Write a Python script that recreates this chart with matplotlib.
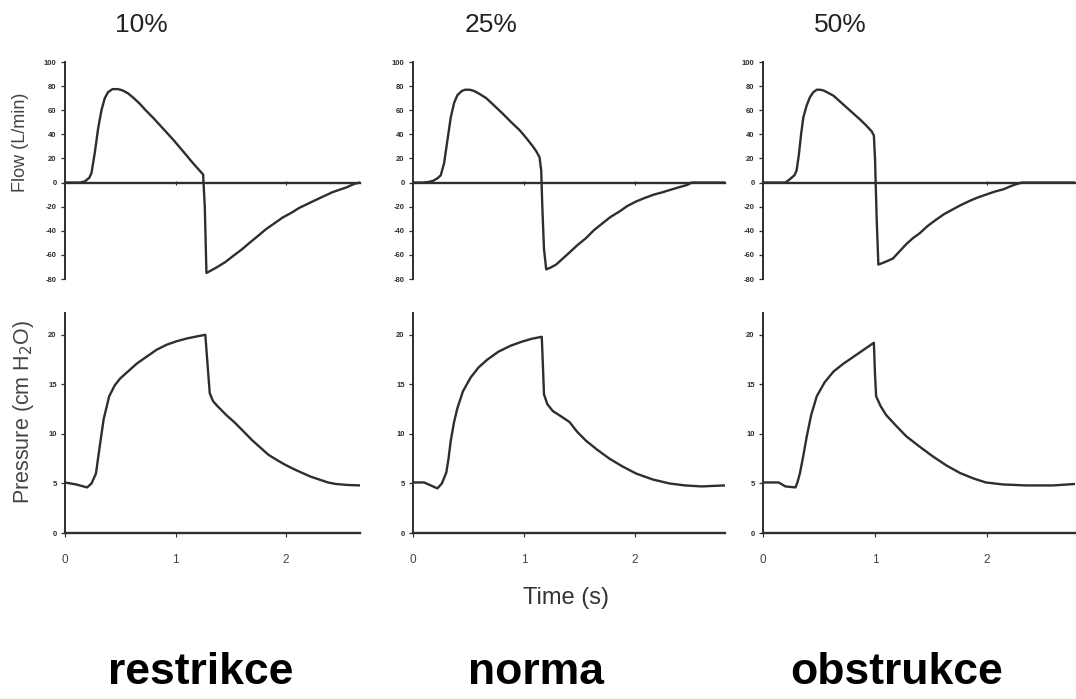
import matplotlib
matplotlib.use("Agg")
import matplotlib.pyplot as plt

# ---------------- data ----------------
titles = ["10%", "25%", "50%"]
bottom_labels = ["restrikce", "norma", "obstrukce"]

flow_t1 = [0, 0.14, 0.18, 0.22, 0.24, 0.27, 0.30, 0.33, 0.36, 0.39, 0.43, 0.48, 0.52, 0.57,
           0.61, 0.67, 0.73, 0.80, 0.86, 0.92, 0.98, 1.04, 1.10, 1.15, 1.19, 1.25, 1.265, 1.28,
           1.32, 1.37, 1.45, 1.52, 1.60, 1.67, 1.75, 1.82, 1.90, 1.97, 2.05, 2.12, 2.20, 2.27,
           2.35, 2.42, 2.49, 2.55, 2.62, 2.67]
flow_v1 = [0, 0, 1, 4, 8, 25, 45, 60, 70, 75, 77.5, 77.5, 76.5, 74,
           71, 66, 60, 53.5, 47.5, 41.5, 35.5, 29, 22.5, 17, 12.8, 6.7, -20, -75,
           -73, -70.5, -66, -61, -55.5, -50, -44, -38.6, -33.5, -29, -25, -21, -17.5, -14.4,
           -11, -8, -5.8, -3.9, -1, 0]

flow_t2 = [0, 0.09, 0.14, 0.18, 0.22, 0.25, 0.28, 0.31, 0.34, 0.37, 0.40, 0.44, 0.47, 0.51,
           0.55, 0.60, 0.66, 0.73, 0.81, 0.88, 0.96, 1.02, 1.08, 1.11, 1.14, 1.155, 1.165, 1.18,
           1.20, 1.24, 1.29, 1.35, 1.41, 1.48, 1.56, 1.63, 1.71, 1.78, 1.86, 1.93, 2.01, 2.09,
           2.17, 2.25, 2.32, 2.40, 2.47, 2.51, 2.81]
flow_v2 = [0, 0, 0.5, 1.4, 3.5, 6, 16, 35, 54, 66, 72.5, 76, 77, 77,
           76, 73.5, 70, 64, 57, 50.5, 43.5, 37, 30, 26, 21, 10, -20, -55,
           -72, -70.5, -68, -63, -58, -52, -46, -39.5, -33.6, -28.5, -24, -19.5, -15.7, -12.7,
           -10, -8, -6, -3.8, -2, 0, 0]

flow_t3 = [0, 0.20, 0.24, 0.28, 0.30, 0.32, 0.34, 0.36, 0.39, 0.42, 0.45, 0.48, 0.51, 0.54,
           0.58, 0.63, 0.69, 0.75, 0.81, 0.87, 0.92, 0.97, 0.99, 1.00, 1.015, 1.03, 1.06, 1.10,
           1.16, 1.22, 1.28, 1.34, 1.40, 1.47, 1.55, 1.62, 1.70, 1.77, 1.85, 1.92, 2.00, 2.07,
           2.15, 2.20, 2.24, 2.31, 2.79]
flow_v3 = [0, 0, 2.8, 6, 10, 23, 40, 54, 64, 71, 75, 77, 77, 76.4,
           74.5, 72, 67, 62, 57, 52, 47.5, 42.5, 39, 20, -30, -68, -67, -65.5,
           -63, -57, -51, -46, -42, -36, -30.5, -26, -22, -18.5, -15, -12.3, -9.7, -7.5,
           -5.5, -3.5, -2, 0, 0]

pres_t1 = [0, 0.10, 0.20, 0.24, 0.28, 0.31, 0.35, 0.40, 0.45, 0.50, 0.56, 0.65, 0.74, 0.83,
           0.92, 1.01, 1.11, 1.20, 1.27, 1.29, 1.31, 1.34, 1.38, 1.46, 1.54, 1.62, 1.69, 1.77,
           1.84, 1.92, 1.99, 2.07, 2.15, 2.22, 2.30, 2.38, 2.45, 2.55, 2.67]
pres_v1 = [5.1, 4.9, 4.6, 5.0, 6.0, 8.4, 11.5, 13.8, 14.9, 15.6, 16.2, 17.1, 17.8, 18.5,
           19.0, 19.35, 19.65, 19.85, 20.0, 17.0, 14.1, 13.3, 12.8, 11.9, 11.1, 10.2, 9.4, 8.6,
           7.9, 7.35, 6.9, 6.45, 6.05, 5.7, 5.4, 5.1, 4.95, 4.85, 4.8]

pres_t2 = [0, 0.10, 0.16, 0.22, 0.26, 0.30, 0.32, 0.34, 0.37, 0.40, 0.45, 0.52, 0.59, 0.67,
           0.77, 0.88, 0.98, 1.07, 1.16, 1.17, 1.18, 1.21, 1.26, 1.33, 1.41, 1.48, 1.56, 1.66,
           1.77, 1.89, 2.01, 2.16, 2.31, 2.45, 2.60, 2.70, 2.81]
pres_v2 = [5.1, 5.1, 4.8, 4.5, 5.0, 6.1, 7.5, 9.3, 11.2, 12.6, 14.3, 15.7, 16.7, 17.5,
           18.3, 18.9, 19.3, 19.6, 19.8, 17.0, 14.0, 13.0, 12.3, 11.8, 11.2, 10.2, 9.3, 8.4,
           7.5, 6.7, 6.0, 5.4, 5.0, 4.8, 4.7, 4.75, 4.8]

pres_t3 = [0, 0.14, 0.17, 0.20, 0.29, 0.31, 0.33, 0.36, 0.39, 0.43, 0.48, 0.55, 0.63, 0.72,
           0.81, 0.90, 0.99, 1.00, 1.01, 1.05, 1.10, 1.19, 1.28, 1.40, 1.52, 1.64, 1.76, 1.88,
           1.99, 2.14, 2.35, 2.59, 2.79]
pres_v3 = [5.1, 5.1, 4.9, 4.7, 4.6, 5.2, 6.05, 7.8, 9.7, 11.9, 13.8, 15.2, 16.3, 17.1,
           17.8, 18.5, 19.2, 16.0, 13.8, 12.8, 11.9, 10.8, 9.75, 8.7, 7.7, 6.8, 6.05, 5.5,
           5.1, 4.9, 4.8, 4.8, 4.95]

flow_ticks = [100, 80, 60, 40, 20, 0, -20, -40, -60, -80]
pres_ticks = [0, 5, 10, 15, 20]
time_ticks = [0, 1, 2]

# ---------------- layout ----------------
W, H = 1076, 699
lefts = [65, 413, 763]
pps = [110.5, 111, 112]
xmaxs = [2.67, 2.81, 2.79]
flows = [(flow_t1, flow_v1), (flow_t2, flow_v2), (flow_t3, flow_v3)]
press = [(pres_t1, pres_v1), (pres_t2, pres_v2), (pres_t3, pres_v3)]

LC = "#2e2e2e"
TC = "#333333"
plt.rcParams['font.family'] = ['Liberation Sans', 'DejaVu Sans']

fig = plt.figure(figsize=(W / 100, H / 100), dpi=100)

def fx(px):
    return px / W

def fy(py):
    return 1 - py / H

for i in range(3):
    left = lefts[i]
    width = xmaxs[i] * pps[i]
    # flow axes
    top, bot = 62, 279
    axf = fig.add_axes([fx(left), fy(bot), fx(width), (bot - top) / H])
    t, v = flows[i]
    axf.plot(t, v, color=LC, lw=1.7, solid_joinstyle='round')
    axf.set_xlim(0, xmaxs[i])
    axf.set_ylim(-80, 100)
    axf.spines['top'].set_visible(False)
    axf.spines['right'].set_visible(False)
    axf.spines['bottom'].set_position(('data', 0))
    axf.spines['bottom'].set_color(LC)
    axf.spines['bottom'].set_linewidth(1.7)
    axf.spines['left'].set_color(LC)
    axf.spines['left'].set_linewidth(1.4)
    axf.set_yticks(flow_ticks)
    axf.set_yticklabels([str(k) for k in flow_ticks], fontsize=5.5, color=TC, fontweight='bold')
    axf.set_xticks(time_ticks[1:])
    axf.set_xticklabels([])
    axf.tick_params(axis='x', direction='inout', length=3, width=0.8, colors=LC)
    axf.tick_params(axis='y', direction='out', length=3, width=0.9, colors=LC, pad=3)
    axf.patch.set_alpha(0)

    # pressure axes
    ptop, pbot = 313, 533
    axp = fig.add_axes([fx(left), fy(pbot), fx(width), (pbot - ptop) / H])
    t, v = press[i]
    axp.plot(t, v, color=LC, lw=1.7, solid_joinstyle='round')
    axp.set_xlim(0, xmaxs[i])
    axp.set_ylim(0, 22.2)
    axp.spines['top'].set_visible(False)
    axp.spines['right'].set_visible(False)
    for s in ('left', 'bottom'):
        axp.spines[s].set_color(LC)
    axp.spines['bottom'].set_linewidth(1.7)
    axp.spines['left'].set_linewidth(1.4)
    axp.set_yticks(pres_ticks)
    axp.set_yticklabels([str(k) for k in pres_ticks], fontsize=5.5, color=TC, fontweight='bold')
    axp.set_xticks(time_ticks)
    axp.set_xticklabels([str(k) for k in time_ticks], fontsize=8.5, color="#444444")
    axp.tick_params(axis='x', direction='out', length=3, width=0.8, colors=LC, pad=12,
                    labelcolor="#444444")
    axp.tick_params(axis='y', direction='out', length=3, width=0.9, colors=LC, pad=3)
    axp.patch.set_alpha(0)

# titles
title_x = [141, 491, 840]
for x, s in zip(title_x, titles):
    fig.text(fx(x), fy(25), s, ha='center', va='center', fontsize=19, color="#222222")

# axis labels
fig.text(fx(21), fy(142), "Flow (L/min)", rotation=90, ha='center', va='center',
         fontsize=13, color="#444444")
fig.text(fx(24), fy(412), "Pressure (cm H$_2$O)", rotation=90, ha='center', va='center',
         fontsize=15.5, color="#444444")
fig.text(fx(566), fy(598), "Time (s)", ha='center', va='center', fontsize=17, color="#333333")

# bottom labels
bl_x = [201, 536, 897]
for x, s in zip(bl_x, bottom_labels):
    fig.text(fx(x), fy(673), s, ha='center', va='center', fontsize=32, fontweight='bold',
             color='black', family=['Liberation Sans Narrow', 'Liberation Sans', 'DejaVu Sans'])

fig.savefig("out.png", dpi=100, facecolor='white')
